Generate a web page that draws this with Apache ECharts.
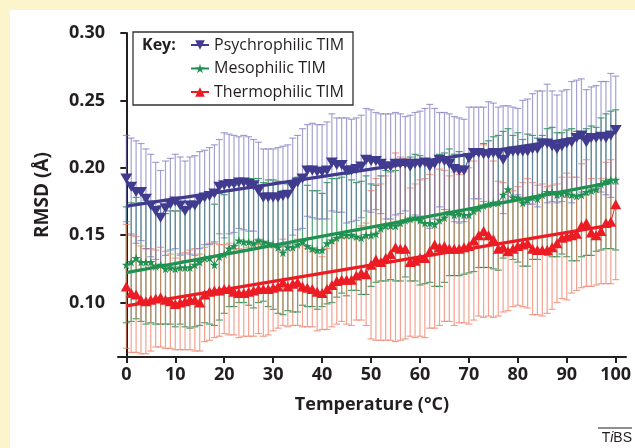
<!DOCTYPE html>
<html><head><meta charset="utf-8">
<script src="https://cdn.jsdelivr.net/npm/echarts@6/dist/echarts.min.js"></script>
<style>html,body{margin:0;padding:0;background:#FCF5CC}#c{width:635px;height:448px}</style>
</head><body><div id="c"></div>
<script>
// ---- data ----
const temps = Array.from({length:101},(_,i)=>i);
const xTicks = [0,10,20,30,40,50,60,70,80,90,100];
const yTicks = [0.10,0.15,0.20,0.25,0.30];
const seriesNames = ['Psychrophilic TIM','Mesophilic TIM','Thermophilic TIM'];
const psyMean = [0.192,0.186,0.182,0.182,0.177,0.172,0.168,0.163,0.170,0.173,
 0.175,0.172,0.168,0.172,0.172,0.176,0.178,0.179,0.181,0.186,
 0.187,0.188,0.188,0.189,0.189,0.188,0.187,0.183,0.178,0.178,
 0.178,0.178,0.179,0.180,0.186,0.189,0.192,0.198,0.198,0.197,
 0.197,0.198,0.204,0.202,0.202,0.198,0.198,0.199,0.201,0.206,
 0.205,0.205,0.203,0.201,0.201,0.203,0.203,0.203,0.201,0.203,
 0.203,0.204,0.201,0.203,0.206,0.205,0.203,0.199,0.198,0.198,
 0.207,0.211,0.211,0.210,0.210,0.211,0.210,0.206,0.211,0.212,
 0.212,0.212,0.212,0.214,0.214,0.218,0.218,0.216,0.214,0.216,
 0.218,0.219,0.222,0.224,0.219,0.222,0.222,0.223,0.222,0.224,0.228];
const psyErr = [0.032,0.036,0.038,0.036,0.037,0.038,0.036,0.035,0.035,0.034,
 0.035,0.036,0.037,0.036,0.037,0.036,0.035,0.036,0.036,0.035,
 0.039,0.037,0.036,0.034,0.035,0.035,0.034,0.036,0.036,0.036,
 0.036,0.037,0.037,0.037,0.036,0.035,0.037,0.034,0.035,0.035,
 0.035,0.036,0.036,0.035,0.035,0.039,0.038,0.038,0.038,0.038,
 0.038,0.036,0.037,0.039,0.039,0.038,0.037,0.035,0.038,0.038,
 0.039,0.040,0.046,0.041,0.035,0.036,0.037,0.039,0.039,0.038,
 0.038,0.034,0.034,0.035,0.039,0.037,0.035,0.040,0.035,0.033,
 0.032,0.038,0.039,0.041,0.043,0.039,0.044,0.041,0.040,0.041,
 0.040,0.045,0.043,0.042,0.039,0.038,0.039,0.041,0.042,0.046,0.040];
const mesoMean = [0.128,0.130,0.133,0.130,0.130,0.130,0.127,0.128,0.125,0.126,
 0.125,0.126,0.126,0.126,0.128,0.130,0.133,0.133,0.128,0.134,
 0.136,0.140,0.142,0.146,0.145,0.145,0.144,0.146,0.145,0.144,
 0.143,0.141,0.137,0.141,0.141,0.143,0.145,0.142,0.140,0.139,
 0.139,0.144,0.146,0.148,0.150,0.150,0.150,0.149,0.148,0.150,
 0.150,0.151,0.155,0.157,0.157,0.157,0.159,0.161,0.162,0.163,
 0.161,0.159,0.159,0.158,0.161,0.163,0.167,0.165,0.166,0.165,
 0.165,0.168,0.170,0.172,0.173,0.174,0.174,0.180,0.184,0.178,
 0.178,0.174,0.176,0.178,0.177,0.180,0.182,0.182,0.180,0.181,
 0.181,0.180,0.179,0.180,0.182,0.183,0.184,0.188,0.190,0.191,0.191];
const mesoErr = [0.043,0.044,0.045,0.044,0.046,0.045,0.043,0.044,0.041,0.042,
 0.043,0.042,0.044,0.045,0.046,0.047,0.048,0.049,0.045,0.047,
 0.044,0.043,0.045,0.046,0.045,0.047,0.048,0.046,0.044,0.047,
 0.048,0.049,0.046,0.047,0.048,0.050,0.047,0.045,0.043,0.044,
 0.042,0.045,0.046,0.044,0.043,0.045,0.041,0.040,0.042,0.044,
 0.038,0.036,0.039,0.041,0.040,0.041,0.043,0.042,0.046,0.047,
 0.048,0.045,0.044,0.046,0.049,0.048,0.047,0.045,0.046,0.044,
 0.043,0.045,0.044,0.046,0.047,0.049,0.050,0.047,0.045,0.046,
 0.048,0.047,0.049,0.046,0.045,0.044,0.047,0.048,0.046,0.045,
 0.047,0.049,0.048,0.046,0.047,0.048,0.046,0.049,0.050,0.051,0.052];
const thermMean = [0.112,0.107,0.106,0.102,0.101,0.102,0.103,0.104,0.102,0.101,
 0.099,0.100,0.101,0.102,0.102,0.100,0.106,0.108,0.109,0.109,
 0.110,0.110,0.108,0.107,0.107,0.108,0.109,0.110,0.110,0.110,
 0.111,0.112,0.115,0.112,0.114,0.115,0.112,0.111,0.110,0.108,
 0.107,0.110,0.113,0.116,0.117,0.117,0.117,0.120,0.122,0.121,
 0.128,0.132,0.130,0.133,0.136,0.141,0.140,0.140,0.130,0.131,
 0.133,0.133,0.138,0.143,0.141,0.142,0.140,0.140,0.140,0.141,
 0.142,0.146,0.150,0.153,0.150,0.147,0.140,0.141,0.138,0.140,
 0.142,0.143,0.144,0.140,0.139,0.139,0.139,0.141,0.144,0.148,
 0.149,0.150,0.151,0.157,0.159,0.152,0.150,0.153,0.159,0.160,0.173];
const thermErr = [0.046,0.044,0.043,0.040,0.039,0.038,0.036,0.037,0.036,0.035,
 0.034,0.035,0.036,0.037,0.038,0.036,0.035,0.036,0.035,0.034,
 0.033,0.034,0.032,0.033,0.032,0.033,0.034,0.033,0.035,0.034,
 0.032,0.031,0.032,0.030,0.031,0.032,0.030,0.029,0.028,0.029,
 0.027,0.030,0.031,0.032,0.031,0.033,0.034,0.033,0.035,0.038,
 0.055,0.060,0.058,0.061,0.064,0.070,0.068,0.067,0.055,0.057,
 0.058,0.059,0.057,0.062,0.058,0.056,0.054,0.057,0.055,0.056,
 0.058,0.059,0.060,0.064,0.060,0.058,0.050,0.048,0.044,0.043,
 0.044,0.046,0.048,0.049,0.048,0.049,0.047,0.046,0.044,0.045,
 0.047,0.043,0.042,0.046,0.047,0.040,0.037,0.039,0.045,0.046,0.056];
// regression lines: [tStart, yStart, tEnd, yEnd]
const psyFit = [0, 0.1715, 100, 0.2265];
const mesoFit = [0, 0.1222, 99, 0.189];
const thermFit = [0, 0.0975, 99, 0.1575];

// ---- styles ----
const C = {
  psy: '#403B8F', psyBar: '#7470BC',
  meso: '#1F9150', mesoBar: '#1E8E4C',
  therm: '#EC1C24', thermBar: '#F07A62'
};
const FONT = '"Open Sans", sans-serif';
const starPath = 'path://M50,0 L61,35 L98,35 L68,57 L79,91 L50,70 L21,91 L32,57 L2,35 L39,35 Z';

function errData(mean, err){ return temps.map((t,i)=>[t, mean[i], err[i]]); }
function errSeries(mean, err, color, opacity){
  return {
    type:'custom', z:1, silent:true,
    data: errData(mean, err),
    renderItem(params, api){
      const t = api.value(0), m = api.value(1), e = api.value(2);
      const top = api.coord([t, m+e]), bot = api.coord([t, m-e]);
      const hw = 3.5;
      const st = {stroke: color, lineWidth: 1.2, opacity: opacity};
      return {type:'group', children:[
        {type:'line', shape:{x1:top[0],y1:top[1],x2:bot[0],y2:bot[1]}, style:st},
        {type:'line', shape:{x1:top[0]-hw,y1:top[1],x2:top[0]+hw,y2:top[1]}, style:st},
        {type:'line', shape:{x1:bot[0]-hw,y1:bot[1],x2:bot[0]+hw,y2:bot[1]}, style:st}
      ]};
    }
  };
}
function fitSeries(f, color){
  return {type:'line', z:4, silent:true, symbol:'none', data:[[f[0],f[1]],[f[2],f[3]]],
    lineStyle:{color:color, width:3.2}};
}
function meanSeries(name, mean, color, symbol, size, rotate){
  return {type:'line', name:name, z:5, data: temps.map((t,i)=>[t, mean[i]]),
    symbol: symbol, symbolSize: size, symbolRotate: rotate||0,
    itemStyle:{color:color}, lineStyle:{color:color, width:1}};
}

const chart = echarts.init(document.getElementById('c'), null, {renderer:'canvas'});
chart.setOption({
  backgroundColor:'#FCF5CC',
  animation:false,
  textStyle:{fontFamily:FONT},
  grid:{left:118, right:9, top:33, bottom:91, containLabel:false},
  graphic:[
    {type:'rect', z:-10, shape:{x:10,y:10,width:625,height:438}, style:{fill:'#ffffff'}},
    {type:'rect', z:10, shape:{x:133,y:32,width:220,height:73}, style:{fill:'#ffffff', stroke:'#333333', lineWidth:1.3}},
    {type:'text', z:11, x:142, y:45, style:{text:'Key:', fill:'#231F20', font:'bold 16px "Open Sans", sans-serif', verticalAlign:'middle'}},
    {type:'line', z:11, shape:{x1:598,y1:428,x2:632,y2:428}, style:{stroke:'#231F20', lineWidth:1}},
    {type:'text', z:11, x:632, y:438, style:{text:'{a|T}{b|i}{a|BS}', align:'right', verticalAlign:'middle',
      rich:{a:{fontSize:14, fontFamily:'"Liberation Sans", sans-serif', fill:'#231F20'}, b:{fontSize:14, fontStyle:'italic', fontFamily:'"Liberation Sans", sans-serif', fill:'#231F20'}}}}
  ],
  legend:{
    z:12, orient:'vertical', left:190, top:37, itemGap:7.5, itemWidth:18, itemHeight:12,
    data: seriesNames,
    textStyle:{fontSize:16, fontFamily:FONT, color:'#231F20', lineHeight:16, padding:[0,0,0,0]},
    padding:0
  },
  xAxis:{
    type:'value', min:-1.7, max:102.1,
    axisLine:{lineStyle:{color:'#231F20', width:2}},
    axisTick:{show:true, customValues:xTicks, length:6, inside:false, lineStyle:{color:'#231F20', width:2}},
    axisLabel:{customValues:xTicks, fontSize:18, fontWeight:'bold', color:'#231F20', margin:9, fontFamily:FONT},
    splitLine:{show:false},
    name:'Temperature (°C)', nameLocation:'middle', nameGap:39,
    nameTextStyle:{fontSize:18, fontWeight:'bold', color:'#231F20', fontFamily:FONT}
  },
  yAxis:{
    type:'value', min:0.0596, max:0.30,
    axisLine:{show:true, lineStyle:{color:'#231F20', width:2}},
    axisTick:{show:true, customValues:yTicks, length:6, lineStyle:{color:'#231F20', width:2}},
    axisLabel:{customValues:yTicks, fontSize:18, fontWeight:'bold', color:'#231F20', margin:13, fontFamily:FONT,
      formatter:v=>v.toFixed(2)},
    splitLine:{show:false},
    name:'RMSD (Å)', nameLocation:'middle', nameGap:66, nameRotate:90,
    nameTextStyle:{fontSize:19, fontWeight:'bold', color:'#231F20', fontFamily:FONT}
  },
  series:[
    errSeries(mesoMean, mesoErr, C.mesoBar, 0.8),
    errSeries(thermMean, thermErr, C.thermBar, 0.7),
    errSeries(psyMean, psyErr, C.psyBar, 0.65),
    fitSeries(thermFit, C.therm),
    fitSeries(mesoFit, C.meso),
    fitSeries(psyFit, C.psy),
    meanSeries(seriesNames[0], psyMean, C.psy, 'triangle', [12,10], 180),
    meanSeries(seriesNames[1], mesoMean, C.meso, starPath, 9),
    meanSeries(seriesNames[2], thermMean, C.therm, 'triangle', [11,10])
  ]
});
</script></body></html>
